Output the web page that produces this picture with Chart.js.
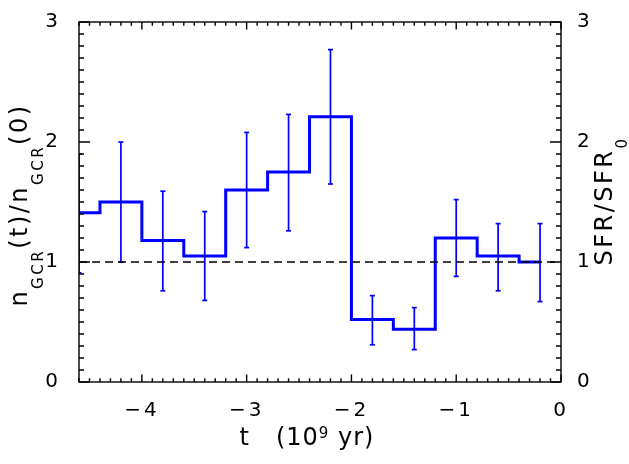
<!DOCTYPE html>
<html>
<head>
<meta charset="utf-8">
<script src="https://cdn.jsdelivr.net/npm/chart.js@4.4.1/dist/chart.umd.min.js"></script>
<style>
  html, body { margin: 0; padding: 0; background: #fff; }
  #myChart { display: block; }
</style>
</head>
<body>
<canvas id="myChart" width="629" height="464"></canvas>
<script>
const times = [-4.6, -4.2, -3.8, -3.4, -3.0, -2.6, -2.2, -1.8, -1.4, -1.0, -0.6, -0.2];
const ratio = [1.41, 1.50, 1.18, 1.05, 1.60, 1.75, 2.21, 0.52, 0.44, 1.20, 1.05, 1.00];
const errLow = [0.91, 1.00, 0.76, 0.68, 1.12, 1.26, 1.65, 0.31, 0.27, 0.88, 0.76, 0.67];
const errHigh = [1.90, 2.00, 1.59, 1.42, 2.08, 2.23, 2.77, 0.72, 0.62, 1.52, 1.32, 1.32];
const refLevel = 1;
const xTicks = [-4, -3, -2, -1, 0];
const yTicks = [0, 1, 2, 3];

const FONT = '"DejaVu Sans", sans-serif';
const BLUE = '#0000ff';

const steps = times.map((t, i) => ({ x: t, y: ratio[i] }));
const bars = [];
times.forEach((t, i) => {
    bars.push({ x: t, y: errLow[i] }, { x: t, y: errHigh[i] }, { x: t, y: null });
});

const fmt = v => v < 0 ? '\u2212' + Math.abs(v) : String(v);

// draws text made of normal / sub / superscript pieces, centred at (cx, cy)
function richText(ctx, parts, cx, cy, rot, spacing) {
    ctx.save();
    ctx.translate(cx, cy);
    ctx.rotate(rot);
    ctx.letterSpacing = spacing + 'px';
    ctx.textBaseline = 'alphabetic';
    ctx.textAlign = 'left';
    ctx.fillStyle = '#000';
    let total = 0;
    parts.forEach(p => {
        ctx.font = p.size + 'px ' + FONT;
        p.w = ctx.measureText(p.t).width;
        total += p.w;
    });
    let x = -total / 2;
    parts.forEach(p => {
        ctx.font = p.size + 'px ' + FONT;
        ctx.fillText(p.t, x, p.dy);
        x += p.w;
    });
    ctx.restore();
}

const frame = {
    id: 'frame',
    beforeDraw(chart) {
        chart.ctx.letterSpacing = '3px';
    },
    afterDraw(chart) {
        const { ctx, chartArea: a, scales: { x, y } } = chart;
        ctx.save();
        ctx.strokeStyle = '#000';
        ctx.lineWidth = 1.4;
        ctx.strokeRect(a.left, a.top, a.right - a.left, a.bottom - a.top);
        ctx.beginPath();
        for (let k = -46; k <= 0; k++) {
            const px = x.getPixelForValue(k / 10);
            const len = k % 10 === 0 ? 7.5 : 3.7;
            ctx.moveTo(px, a.bottom); ctx.lineTo(px, a.bottom - len);
            ctx.moveTo(px, a.top); ctx.lineTo(px, a.top + len);
        }
        for (let k = 0; k <= 30; k++) {
            const py = y.getPixelForValue(k / 10);
            const len = k % 10 === 0 ? 11 : 5;
            ctx.moveTo(a.left, py); ctx.lineTo(a.left + len, py);
            ctx.moveTo(a.right, py); ctx.lineTo(a.right - len, py);
        }
        ctx.stroke();
        ctx.restore();

        richText(ctx, [
            { t: 'n', size: 24, dy: 0 },
            { t: 'GCR', size: 15, dy: 16 },
            { t: '(t)/n', size: 24, dy: 0 },
            { t: 'GCR', size: 15, dy: 16 },
            { t: '(0)', size: 24, dy: 0 }
        ], 27, 205, -Math.PI / 2, 2.5);

        richText(ctx, [
            { t: 'SFR/SFR', size: 24, dy: 0 },
            { t: '0', size: 15, dy: 15 }
        ], 612, 201, -Math.PI / 2, 2.5);

        richText(ctx, [
            { t: 't   (10', size: 24, dy: 0 },
            { t: '9', size: 15, dy: -7 },
            { t: ' yr)', size: 24, dy: 0 }
        ], 307, 445, 0, 1);
    }
};

const tickFont = { family: FONT, size: 20 };

new Chart(document.getElementById('myChart'), {
    type: 'line',
    data: {
        datasets: [
            {
                data: [{ x: times[0], y: refLevel }, { x: 0, y: refLevel }],
                borderColor: '#000',
                borderWidth: 1.5,
                borderDash: [8, 5],
                pointRadius: 0
            },
            {
                data: steps,
                stepped: 'middle',
                borderColor: BLUE,
                borderWidth: 3,
                borderJoinStyle: 'miter',
                pointRadius: 0
            },
            {
                data: bars,
                borderColor: BLUE,
                borderWidth: 1.7,
                spanGaps: false,
                pointStyle: 'line',
                pointRadius: 2.5,
                pointBorderWidth: 1.7,
                pointBorderColor: BLUE
            }
        ]
    },
    options: {
        responsive: false,
        animation: false,
        devicePixelRatio: 1,
        layout: { padding: { top: 9, left: 0, right: 0, bottom: 0 } },
        plugins: { legend: { display: false }, tooltip: { enabled: false } },
        scales: {
            x: {
                type: 'linear',
                min: -4.6,
                max: 0,
                afterBuildTicks: s => { s.ticks = xTicks.map(v => ({ value: v })); },
                afterFit: s => { s.height = 82; },
                grid: { display: false },
                border: { display: false },
                ticks: { color: '#000', font: tickFont, padding: 9, maxRotation: 0, callback: fmt }
            },
            y: {
                position: 'left',
                min: 0,
                max: 3,
                afterBuildTicks: s => { s.ticks = yTicks.map(v => ({ value: v })); },
                afterFit: s => { s.width = 79; },
                grid: { display: false },
                border: { display: false },
                ticks: { color: '#000', font: tickFont, padding: 10, callback: fmt }
            },
            y2: {
                position: 'right',
                min: 0,
                max: 3,
                afterBuildTicks: s => { s.ticks = yTicks.map(v => ({ value: v })); },
                afterFit: s => { s.width = 68; },
                grid: { display: false },
                border: { display: false },
                ticks: { color: '#000', font: tickFont, padding: 8, callback: fmt }
            }
        }
    },
    plugins: [frame]
});
</script>
</body>
</html>
